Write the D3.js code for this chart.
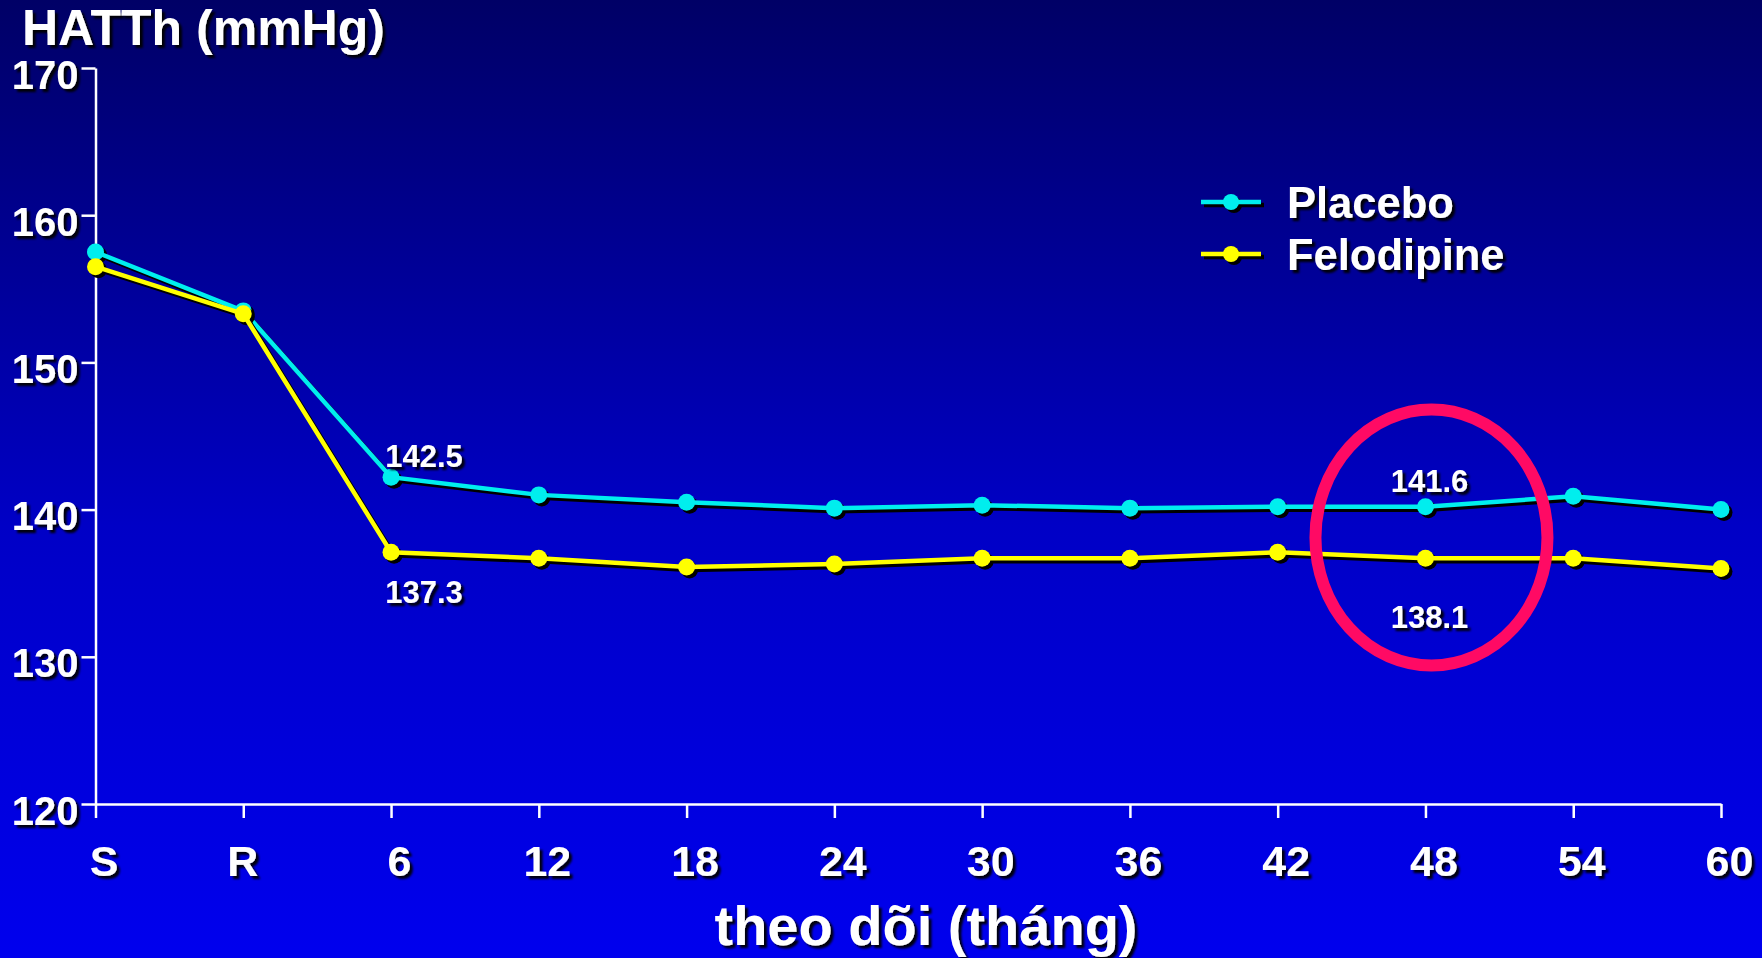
<!DOCTYPE html>
<html><head><meta charset="utf-8">
<script src="https://cdn.jsdelivr.net/npm/d3@7"></script>
<style>html,body{margin:0;padding:0;background:#000080;overflow:hidden}</style>
</head><body><svg id="c" width="1762" height="958"></svg>
<script>
const categories = ["S","R","6","12","18","24","30","36","42","48","54","60"];
const placebo    = [157.5,153.5,142.2,141.0,140.5,140.1,140.3,140.1,140.2,140.2,140.9,140.0];
const felodipine = [156.5,153.3,137.1,136.7,136.1,136.3,136.7,136.7,137.1,136.7,136.7,136.0];
const yTicks = [120,130,140,150,160,170];
const seriesNames = ["Placebo","Felodipine"];
const seriesColors = ["#00EEEE","#FFFF00"];
const annoCats  = ["6","6","48","48"];
const annoTexts = ["142.5","137.3","141.6","138.1"];
const yTitle = "HATTh (mmHg)";
const xTitle = "theo dõi (tháng)";

const W = 1762, H = 958;
const svg = d3.select("#c");
const defs = svg.append("defs");
const grad = defs.append("linearGradient").attr("id","bg").attr("x1",0).attr("y1",0).attr("x2",0).attr("y2",1);
grad.append("stop").attr("offset","0%").attr("stop-color","#000066");
grad.append("stop").attr("offset","55%").attr("stop-color","#0000C6");
grad.append("stop").attr("offset","100%").attr("stop-color","#0000EE");
const f = defs.append("filter").attr("id","sh").attr("x","-20%").attr("y","-20%").attr("width","140%").attr("height","160%");
f.append("feDropShadow").attr("dx",3).attr("dy",3).attr("stdDeviation",0.8).attr("flood-color","#000").attr("flood-opacity",0.95);

svg.append("rect").attr("width",W).attr("height",H).attr("fill","url(#bg)");

const x = d3.scalePoint().domain(categories).range([95.5,1721]);
const y = d3.scaleLinear().domain([120,170]).range([804,68]);

const font = "'Liberation Sans', Arial, Helvetica, sans-serif";

// Y axis
const gy = svg.append("g").attr("transform","translate(95.5,0)")
  .call(d3.axisLeft(y).tickValues(yTicks).tickSize(14).tickSizeOuter(0).tickPadding(3));
gy.select(".domain").attr("stroke","#fff").attr("stroke-width",2.5);
gy.selectAll(".tick line").attr("stroke","#fff").attr("stroke-width",2.5);
gy.selectAll(".tick text").attr("fill","#fff").attr("font-family",font).attr("font-weight","bold")
  .attr("font-size",40).attr("dy","0.5em").attr("filter","url(#sh)");

// X axis
const gx = svg.append("g").attr("transform","translate(0,804)")
  .call(d3.axisBottom(x).tickSize(14).tickSizeOuter(0).tickPadding(15));
gx.select(".domain").attr("stroke","#fff").attr("stroke-width",2.5);
gx.selectAll(".tick line").attr("stroke","#fff").attr("stroke-width",2.5);
gx.selectAll(".tick text").attr("fill","#fff").attr("font-family",font).attr("font-weight","bold")
  .attr("font-size",43).attr("dx",d=>d==="R"?-1:8).attr("dy","1em").attr("filter","url(#sh)");

// Titles
svg.append("text").attr("x",22).attr("y",45).text(yTitle).attr("fill","#fff")
  .attr("font-family",font).attr("font-weight","bold").attr("font-size",50).attr("filter","url(#sh)");
svg.append("text").attr("x",926).attr("y",945).attr("text-anchor","middle").text(xTitle).attr("fill","#fff")
  .attr("font-family",font).attr("font-weight","bold").attr("font-size",56).attr("filter","url(#sh)");

// Series
const series = [placebo, felodipine];
const line = d3.line().x((d,i)=>x(categories[i])).y(d=>y(d));
series.forEach((vals,si)=>{
  const g = svg.append("g");
  g.append("path").attr("d",line(vals)).attr("fill","none").attr("stroke","#000").attr("stroke-width",4.5)
    .attr("transform","translate(3,3)");
  g.selectAll("circle.s").data(vals).join("circle").attr("class","s")
    .attr("cx",(d,i)=>x(categories[i])+3).attr("cy",d=>y(d)+3).attr("r",8.5).attr("fill","#000");
  g.append("path").attr("d",line(vals)).attr("fill","none").attr("stroke",seriesColors[si]).attr("stroke-width",4.5);
  g.selectAll("circle.m").data(vals).join("circle").attr("class","m")
    .attr("cx",(d,i)=>x(categories[i])).attr("cy",d=>y(d)).attr("r",8.5).attr("fill",seriesColors[si]);
});

// Annotations (label centre positions, in axis units)
const annoDx = [33,33,4,4];
const annoY = [143.62, 134.41, 141.96, 132.74];
annoTexts.forEach((t,i)=>{
  svg.append("text").attr("x",x(annoCats[i])+annoDx[i]).attr("y",y(annoY[i])).attr("text-anchor","middle")
    .text(t).attr("fill","#fff").attr("font-family",font).attr("font-weight","bold").attr("font-size",31)
    .attr("dy","0.36em").attr("filter","url(#sh)");
});

// Highlight ellipse
svg.append("ellipse").attr("cx",x("48")+6).attr("cy",y(138.1)).attr("rx",116).attr("ry",128)
  .attr("fill","none").attr("stroke","#FF0A64").attr("stroke-width",12);

// Legend
const lg = svg.append("g");
seriesNames.forEach((n,i)=>{
  const ly = 202 + i*52, lx = 1201;
  lg.append("line").attr("x1",lx+3).attr("x2",lx+63).attr("y1",ly+3).attr("y2",ly+3).attr("stroke","#000").attr("stroke-width",4.5);
  lg.append("circle").attr("cx",lx+33).attr("cy",ly+3).attr("r",8).attr("fill","#000");
  lg.append("line").attr("x1",lx).attr("x2",lx+60).attr("y1",ly).attr("y2",ly).attr("stroke",seriesColors[i]).attr("stroke-width",4.5);
  lg.append("circle").attr("cx",lx+30).attr("cy",ly).attr("r",8).attr("fill",seriesColors[i]);
  lg.append("text").attr("x",1287).attr("y",ly+16).text(n).attr("fill","#fff").attr("font-family",font)
    .attr("font-weight","bold").attr("font-size",43.5).attr("filter","url(#sh)");
});
</script></body></html>
